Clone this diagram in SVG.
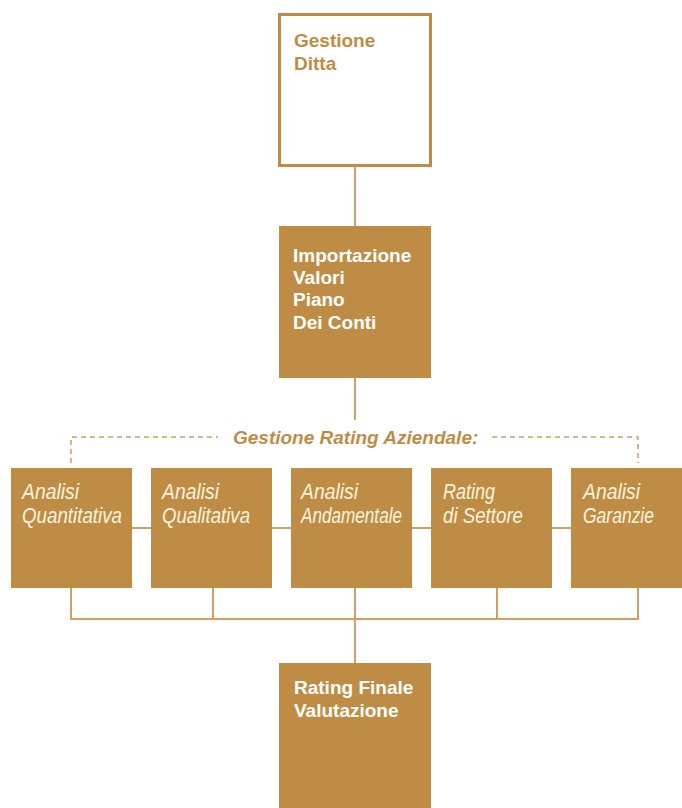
<svg xmlns="http://www.w3.org/2000/svg" width="682" height="808" viewBox="0 0 682 808">
<style>
.bg{fill:#ffffff}
.box{fill:#BF8C45}
.outline{fill:#ffffff;stroke:#BF8C45;stroke-width:3}
.line{fill:none;stroke:#CFA061;stroke-width:2}
.dash{fill:none;stroke:#CFA061;stroke-width:1.6;stroke-dasharray:5 4}
.tb{font-family:"Liberation Sans",Arial,sans-serif;font-weight:bold;font-size:19px}
.gold{fill:#BF8C45}
.white{fill:#ffffff}
.ti{font-family:"Liberation Sans",Arial,sans-serif;font-style:italic;font-size:21.5px;fill:#FFF4DE}
.title{font-family:"Liberation Sans",Arial,sans-serif;font-style:italic;font-weight:bold;font-size:19px;fill:#BF8C45}
</style>
<rect class="bg" x="0" y="0" width="682" height="808"/>
<g id="connectors">
<line class="line" x1="355" y1="166" x2="355" y2="226"/>
<line class="line" x1="355" y1="378" x2="355" y2="420"/>
<polyline class="dash" points="71,463 71,437 218,437"/>
<polyline class="dash" points="492,437 638,437 638,463"/>
<line class="line" x1="132" y1="528" x2="151" y2="528"/>
<line class="line" x1="272" y1="528" x2="291" y2="528"/>
<line class="line" x1="412" y1="528" x2="431" y2="528"/>
<line class="line" x1="552" y1="528" x2="571" y2="528"/>
<line class="line" x1="71" y1="588" x2="71" y2="619"/>
<line class="line" x1="213" y1="588" x2="213" y2="619"/>
<line class="line" x1="355" y1="588" x2="355" y2="663"/>
<line class="line" x1="497" y1="588" x2="497" y2="619"/>
<line class="line" x1="638" y1="588" x2="638" y2="619"/>
<line class="line" x1="70" y1="619" x2="639" y2="619"/>
<text class="title" x="233" y="444">Gestione Rating Aziendale:</text>
</g>
<g id="gestione-ditta">
<rect class="outline" x="279.5" y="14.5" width="151" height="151"/>
<text class="tb gold" x="294" y="47">Gestione</text>
<text class="tb gold" x="294" y="70">Ditta</text>
</g>
<g id="importazione">
<rect class="box" x="279" y="226" width="152" height="152"/>
<text class="tb white" x="293" y="262">Importazione</text>
<text class="tb white" x="293" y="284">Valori</text>
<text class="tb white" x="293" y="306">Piano</text>
<text class="tb white" x="293" y="329">Dei Conti</text>
</g>
<g id="analisi-quantitativa">
<rect class="box" x="11" y="468" width="121" height="120"/>
<text class="ti" x="22" y="499" textLength="57" lengthAdjust="spacingAndGlyphs">Analisi</text>
<text class="ti" x="22" y="523" textLength="100" lengthAdjust="spacingAndGlyphs">Quantitativa</text>
</g>
<g id="analisi-qualitativa">
<rect class="box" x="151" y="468" width="121" height="120"/>
<text class="ti" x="162" y="499" textLength="57" lengthAdjust="spacingAndGlyphs">Analisi</text>
<text class="ti" x="162" y="523" textLength="88" lengthAdjust="spacingAndGlyphs">Qualitativa</text>
</g>
<g id="analisi-andamentale">
<rect class="box" x="291" y="468" width="121" height="120"/>
<text class="ti" x="301" y="499" textLength="57" lengthAdjust="spacingAndGlyphs">Analisi</text>
<text class="ti" x="301" y="523" textLength="101" lengthAdjust="spacingAndGlyphs">Andamentale</text>
</g>
<g id="rating-settore">
<rect class="box" x="431" y="468" width="121" height="120"/>
<text class="ti" x="443" y="499" textLength="52" lengthAdjust="spacingAndGlyphs">Rating</text>
<text class="ti" x="443" y="523" textLength="80" lengthAdjust="spacingAndGlyphs">di Settore</text>
</g>
<g id="analisi-garanzie">
<rect class="box" x="571" y="468" width="121" height="120"/>
<text class="ti" x="583" y="499" textLength="57" lengthAdjust="spacingAndGlyphs">Analisi</text>
<text class="ti" x="583" y="523" textLength="71" lengthAdjust="spacingAndGlyphs">Garanzie</text>
</g>
<g id="rating-finale">
<rect class="box" x="279" y="663" width="152" height="150"/>
<text class="tb white" x="294" y="694">Rating Finale</text>
<text class="tb white" x="294" y="717">Valutazione</text>
</g>
</svg>
